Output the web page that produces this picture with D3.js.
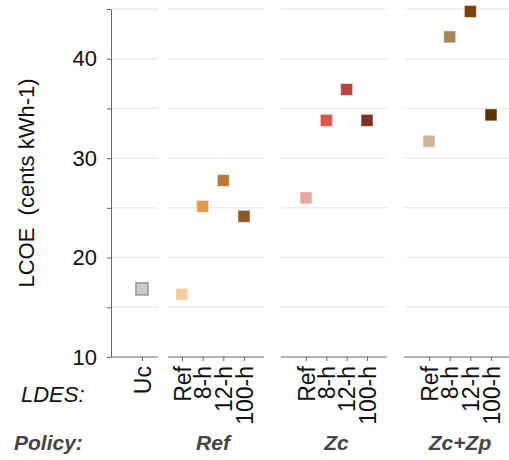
<!DOCTYPE html>
<html>
<head>
<meta charset="utf-8">
<script src="https://cdn.jsdelivr.net/npm/d3@7"></script>
<style>
  body { margin: 0; background: #fff; }
  svg { font-family: "Liberation Sans", Arial, Helvetica, sans-serif; }
</style>
</head>
<body>
<div id="chart"></div>
<script>
// data
const policies = ["Uc", "Ref", "Zc", "Zc+Zp"];
const policyLabels = ["", "Ref", "Zc", "Zc+Zp"];
const ldes = [["Uc"], ["Ref", "8-h", "12-h", "100-h"], ["Ref", "8-h", "12-h", "100-h"], ["Ref", "8-h", "12-h", "100-h"]];
const lcoeUc = [16.85];
const lcoeRef = [16.3, 25.15, 27.75, 24.15];
const lcoeZc = [26.0, 33.8, 36.9, 33.8];
const lcoeZcZp = [31.7, 42.2, 44.75, 34.35];
const colorsUc = ["#cccccc"];
const colorsRef = ["#f2cfa0", "#e59a48", "#b87a3a", "#8b5a2b"];
const colorsZc = ["#e9a9a1", "#d9564a", "#b4473e", "#7e322a"];
const colorsZcZp = ["#cdb49a", "#a9855c", "#7a4206", "#5c3306"];
const yTicks = [10, 15, 20, 25, 30, 35, 40, 45];

const values = [lcoeUc, lcoeRef, lcoeZc, lcoeZcZp];
const colors = [colorsUc, colorsRef, colorsZc, colorsZcZp];

const W = 509, H = 460;
// panel extents in px: [left, right, first tick, last tick]
const panelBox = [[111, 158, 142, 142], [168, 264, 182, 244], [281, 387, 306, 367], [404, 520, 429, 491]];

const svg = d3.select("#chart").append("svg")
  .attr("width", W).attr("height", H);

const y = d3.scaleLinear().domain([10, 45]).range([357, 9]);

panelBox.forEach((b, i) => {
  const x = d3.scalePoint().domain(ldes[i]).range([b[2], b[3]]);
  const g = svg.append("g");

  // grid
  g.selectAll("line.grid")
    .data(yTicks.filter(t => t > 10))
    .join("line")
    .attr("x1", b[0]).attr("x2", b[1])
    .attr("y1", d => y(d)).attr("y2", d => y(d))
    .attr("stroke", "#ebebeb").attr("stroke-width", 1.5);

  // bottom axis
  const ax = g.append("g")
    .attr("transform", "translate(0," + y(10) + ")")
    .call(d3.axisBottom(x).tickSize(4).tickPadding(5).tickSizeOuter(0));
  ax.select(".domain").attr("d", "M" + b[0] + ",0H" + b[1]).attr("stroke", "#666");
  ax.selectAll(".tick line").attr("stroke", "#666");
  ax.selectAll(".tick text")
    .attr("transform", "rotate(-90)")
    .attr("x", -9).attr("y", 0).attr("dy", "0.36em")
    .attr("text-anchor", "end")
    .attr("fill", "#111")
    .style("font-size", "23px")
    .style("font-family", "'Liberation Sans', Arial, sans-serif");

  // points
  const pts = ldes[i].map((k, j) => ({ k: k, v: values[i][j], c: colors[i][j] }));
  const s = 12;
  g.selectAll("rect.pt")
    .data(pts)
    .join("rect")
    .attr("x", d => x(d.k) - s / 2)
    .attr("y", d => y(d.v) - s / 2)
    .attr("width", s).attr("height", s)
    .attr("fill", d => d.c)
    .attr("stroke", i === 0 ? "#999" : "#fff")
    .attr("stroke-opacity", i === 0 ? 1 : 0.5)
    .attr("stroke-width", i === 0 ? 1.6 : 1);

  // policy label
  if (policyLabels[i]) {
    svg.append("text")
      .attr("x", (b[2] + b[3]) / 2).attr("y", 450)
      .attr("text-anchor", "middle")
      .attr("fill", "#444")
      .style("font-size", "21px")
      .style("font-weight", "bold").style("font-style", "italic")
      .text(policyLabels[i]);
  }
});

// y axis
const yAx = svg.append("g")
  .attr("transform", "translate(111,0)")
  .call(d3.axisLeft(y).tickValues(yTicks).tickSize(4).tickPadding(10)
    .tickFormat(d => d % 10 === 0 ? d : "").tickSizeOuter(0));
yAx.select(".domain").attr("stroke", "#666");
yAx.selectAll(".tick line").attr("stroke", "#666");
yAx.selectAll(".tick text")
  .attr("fill", "#111")
  .style("font-size", "22px")
  .style("font-family", "'Liberation Sans', Arial, sans-serif");

svg.append("text")
  .attr("transform", "translate(34,183) rotate(-90)")
  .attr("text-anchor", "middle")
  .attr("fill", "#111")
  .style("font-size", "22px")
  .style("white-space", "pre")
  .text("LCOE  (cents kWh-1)");

svg.append("text")
  .attr("x", 21).attr("y", 402)
  .attr("fill", "#111")
  .style("font-size", "22px").style("font-style", "italic")
  .text("LDES:");

svg.append("text")
  .attr("x", 14).attr("y", 450)
  .attr("fill", "#444")
  .style("font-size", "21px")
  .style("font-weight", "bold").style("font-style", "italic")
  .text("Policy:");
</script>
</body>
</html>
